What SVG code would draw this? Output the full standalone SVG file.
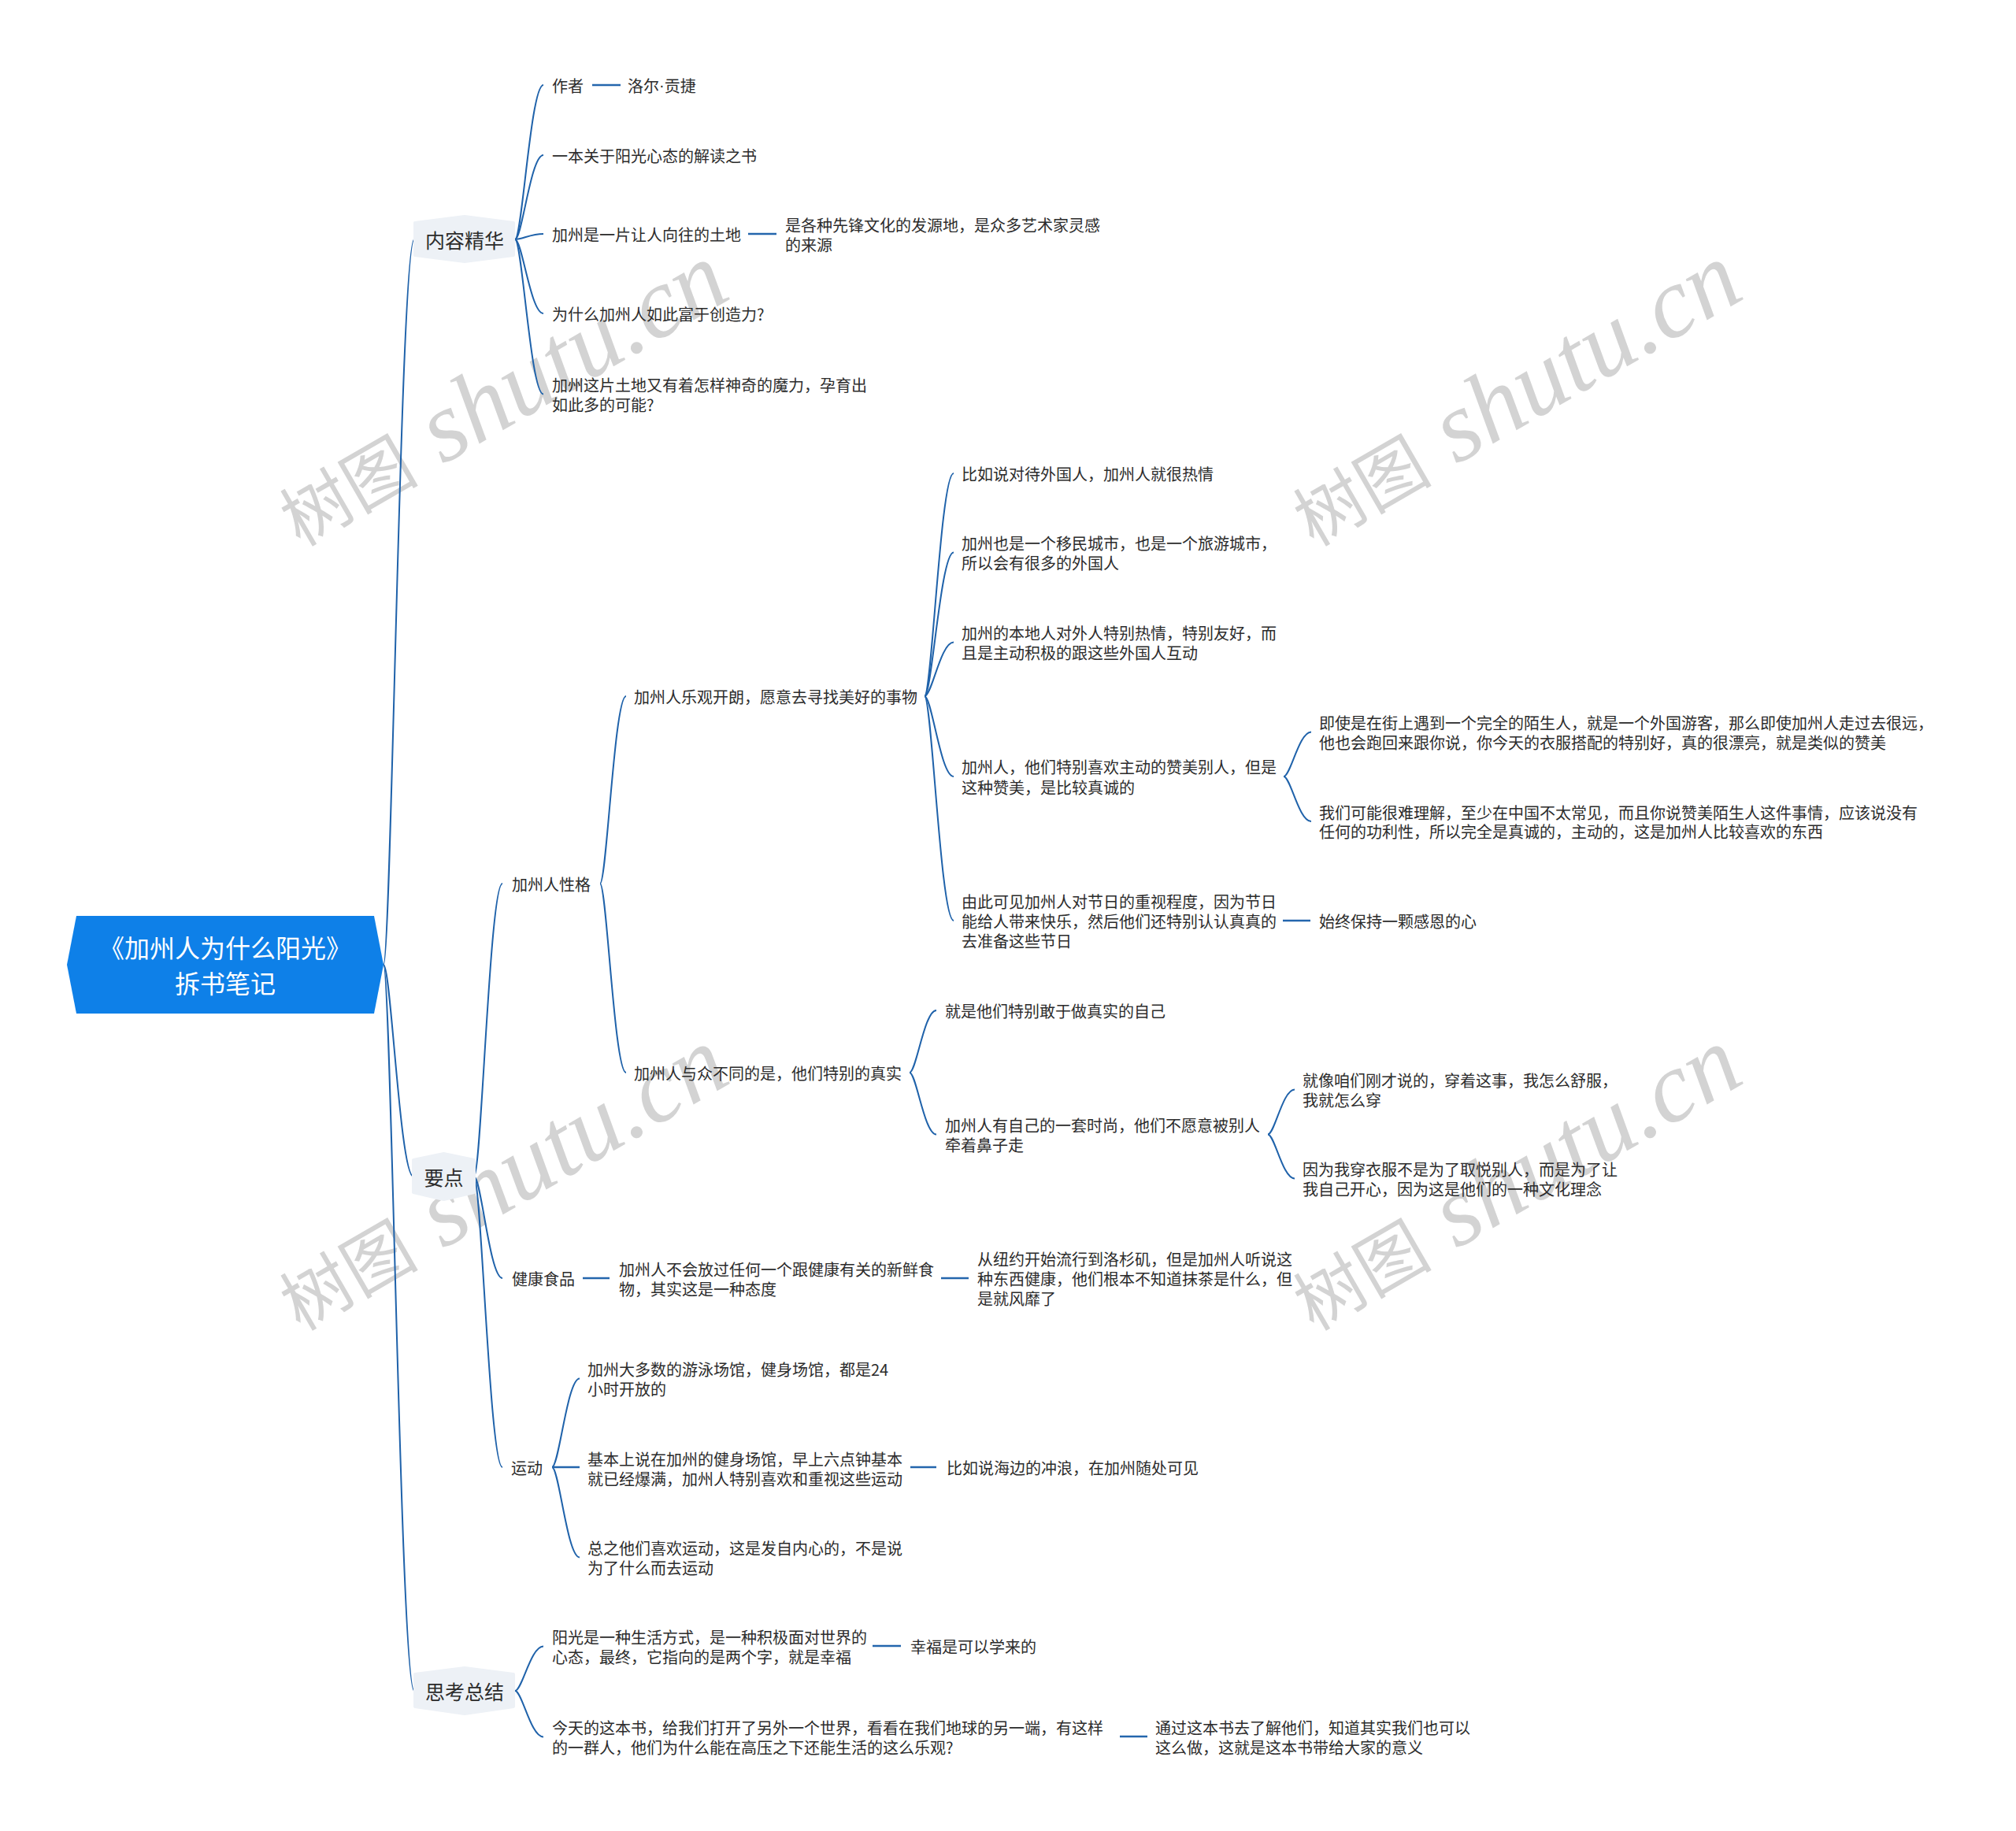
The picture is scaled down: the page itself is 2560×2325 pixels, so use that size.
<svg xmlns="http://www.w3.org/2000/svg" width="2560" height="2325" viewBox="0 0 2560 2325">
<style>
.t{font-family:"Noto Sans CJK SC","Liberation Sans",sans-serif;font-size:20px;fill:#2c2c2c;dominant-baseline:central}
.m{font-size:25px;text-anchor:middle}
.r{font-size:32px;fill:#ffffff;text-anchor:middle}
.c{fill:none;stroke:#1f62aa;stroke-width:2}
.s{fill:none;stroke:#2466ad;stroke-width:2.6}
.hx{fill:#edf1f6;stroke:#edf1f6;stroke-width:4;stroke-linejoin:round}
.wm{fill:#d3d3d3}
.wc{font-family:"Noto Sans CJK SC",sans-serif;font-size:88px}
.wl{font-family:"Liberation Serif",serif;font-style:italic;font-size:127px}
.dot{font-family:"Liberation Sans",sans-serif}
</style>
<rect width="2560" height="2325" fill="#ffffff"/>
<g id="watermarks">
<text class="wm" transform="translate(381,695) rotate(-30)"><tspan class="wc" x="0" y="0">树图</tspan><tspan class="wl" x="209" y="0">shutu.cn</tspan></text>
<text class="wm" transform="translate(1668,695) rotate(-30)"><tspan class="wc" x="0" y="0">树图</tspan><tspan class="wl" x="209" y="0">shutu.cn</tspan></text>
<text class="wm" transform="translate(381,1691) rotate(-30)"><tspan class="wc" x="0" y="0">树图</tspan><tspan class="wl" x="209" y="0">shutu.cn</tspan></text>
<text class="wm" transform="translate(1668,1691) rotate(-30)"><tspan class="wc" x="0" y="0">树图</tspan><tspan class="wl" x="209" y="0">shutu.cn</tspan></text>
</g>
<g id="connectors">
<path class="c" d="M487 1225 C496.8 1225 508.5 304 526 304"/>
<path class="c" d="M487 1225 C496.5 1225 507.9 1494 525 1494"/>
<path class="c" d="M487 1225 C496.8 1225 508.5 2147 526 2147"/>
<path class="c" d="M654 304 C663 304 673.8 108 690 108"/>
<path class="c" d="M654 304 C663 304 673.8 197 690 197"/>
<path class="c" d="M654 304 C663 304 673.8 297 690 297"/>
<path class="c" d="M654 304 C663 304 673.8 398 690 398"/>
<path class="c" d="M654 304 C663 304 673.8 500.5 690 500.5"/>
<path class="s" d="M752 108 H788"/>
<path class="s" d="M950 297 H986"/>
<path class="c" d="M602 1494 C611 1494 621.8 1122 638 1122"/>
<path class="c" d="M602 1494 C611 1494 621.8 1623 638 1623"/>
<path class="c" d="M602 1494 C611 1494 621.8 1863 638 1863"/>
<path class="c" d="M762 1122 C770.3 1122 780.2 884 795 884"/>
<path class="c" d="M762 1122 C770.3 1122 780.2 1362 795 1362"/>
<path class="c" d="M1174 884 C1183.3 884 1194.4 601 1211 601"/>
<path class="c" d="M1174 884 C1183.3 884 1194.4 701.5 1211 701.5"/>
<path class="c" d="M1174 884 C1183.3 884 1194.4 815.5 1211 815.5"/>
<path class="c" d="M1174 884 C1183.3 884 1194.4 986 1211 986"/>
<path class="c" d="M1174 884 C1183.3 884 1194.4 1169 1211 1169"/>
<path class="c" d="M1630 986 C1638.8 986 1649.3 929.5 1665 929.5"/>
<path class="c" d="M1630 986 C1638.8 986 1649.3 1043 1665 1043"/>
<path class="s" d="M1629 1169 H1664"/>
<path class="c" d="M1155 1362 C1163.5 1362 1173.7 1283 1189 1283"/>
<path class="c" d="M1155 1362 C1163.5 1362 1173.7 1440.5 1189 1440.5"/>
<path class="c" d="M1610 1440.5 C1618.5 1440.5 1628.7 1383.5 1644 1383.5"/>
<path class="c" d="M1610 1440.5 C1618.5 1440.5 1628.7 1496.5 1644 1496.5"/>
<path class="s" d="M740 1623 H774"/>
<path class="s" d="M1195 1623 H1230"/>
<path class="c" d="M701 1863 C709.8 1863 720.3 1750.5 736 1750.5"/>
<path class="s" d="M701 1863 H736"/>
<path class="c" d="M701 1863 C709.8 1863 720.3 1977.5 736 1977.5"/>
<path class="s" d="M1156 1863 H1189"/>
<path class="c" d="M654 2147 C663 2147 673.8 2090.5 690 2090.5"/>
<path class="c" d="M654 2147 C663 2147 673.8 2205.5 690 2205.5"/>
<path class="s" d="M1108 2090 H1144"/>
<path class="s" d="M1422 2205 H1457"/>
</g>
<g id="root">
<polygon points="97,1163 475,1163 487,1225 475,1287 97,1287 85,1225" fill="#0e80e8"/>
<text class="t r"><tspan x="286" y="1202">《加州人为什么阳光》</tspan><tspan x="286" y="1247">拆书笔记</tspan></text>
</g>
<g id="n-neirong">
<polygon class="hx" points="527,283 590,275 652,283 652,324 590,332 527,324"/>
<text class="t m" x="590" y="304">内容精华</text>
</g>
<g id="n-zuozhe"><text class="t" x="701" y="108">作者</text></g>
<g id="n-luoer"><text class="t" x="797" y="108">洛尔<tspan class="dot">·</tspan>贡捷</text></g>
<g id="n-yiben"><text class="t" x="701" y="197">一本关于阳光心态的解读之书</text></g>
<g id="n-jiazhoushi"><text class="t" x="701" y="297">加州是一片让人向往的土地</text></g>
<g id="n-xianfeng"><text class="t"><tspan x="997" y="285">是各种先锋文化的发源地，是众多艺术家灵感</tspan><tspan x="997" y="310">的来源</tspan></text></g>
<g id="n-weishenme"><text class="t" x="701" y="398">为什么加州人如此富于创造力?</text></g>
<g id="n-zhepian"><text class="t"><tspan x="701" y="488">加州这片土地又有着怎样神奇的魔力，孕育出</tspan><tspan x="701" y="513">如此多的可能?</tspan></text></g>
<g id="n-yaodian">
<polygon class="hx" points="525,1473 563.5,1465 602,1473 602,1514 563.5,1523 525,1514"/>
<text class="t m" x="563.5" y="1494">要点</text>
</g>
<g id="n-xingge"><text class="t" x="650" y="1122">加州人性格</text></g>
<g id="n-leguan"><text class="t" x="805" y="884">加州人乐观开朗，愿意去寻找美好的事物</text></g>
<g id="n-biru"><text class="t" x="1221" y="601">比如说对待外国人，加州人就很热情</text></g>
<g id="n-yimin"><text class="t"><tspan x="1221" y="689">加州也是一个移民城市，也是一个旅游城市，</tspan><tspan x="1221" y="714">所以会有很多的外国人</tspan></text></g>
<g id="n-bendi"><text class="t"><tspan x="1221" y="803">加州的本地人对外人特别热情，特别友好，而</tspan><tspan x="1221" y="828">且是主动积极的跟这些外国人互动</tspan></text></g>
<g id="n-zanmei"><text class="t"><tspan x="1221" y="973">加州人，他们特别喜欢主动的赞美别人，但是</tspan><tspan x="1221" y="999">这种赞美，是比较真诚的</tspan></text></g>
<g id="n-jishi"><text class="t"><tspan x="1675" y="917">即使是在街上遇到一个完全的陌生人，就是一个外国游客，那么即使加州人走过去很远，</tspan><tspan x="1675" y="942">他也会跑回来跟你说，你今天的衣服搭配的特别好，真的很漂亮，就是类似的赞美</tspan></text></g>
<g id="n-women"><text class="t"><tspan x="1675" y="1031">我们可能很难理解，至少在中国不太常见，而且你说赞美陌生人这件事情，应该说没有</tspan><tspan x="1675" y="1055">任何的功利性，所以完全是真诚的，主动的，这是加州人比较喜欢的东西</tspan></text></g>
<g id="n-jieri"><text class="t"><tspan x="1221" y="1144">由此可见加州人对节日的重视程度，因为节日</tspan><tspan x="1221" y="1169">能给人带来快乐，然后他们还特别认认真真的</tspan><tspan x="1221" y="1194">去准备这些节日</tspan></text></g>
<g id="n-ganen"><text class="t" x="1675" y="1169">始终保持一颗感恩的心</text></g>
<g id="n-zhenshi"><text class="t" x="805" y="1362">加州人与众不同的是，他们特别的真实</text></g>
<g id="n-ziji"><text class="t" x="1200" y="1283">就是他们特别敢于做真实的自己</text></g>
<g id="n-shishang"><text class="t"><tspan x="1200" y="1428">加州人有自己的一套时尚，他们不愿意被别人</tspan><tspan x="1200" y="1453">牵着鼻子走</tspan></text></g>
<g id="n-shufu"><text class="t"><tspan x="1654" y="1371">就像咱们刚才说的，穿着这事，我怎么舒服，</tspan><tspan x="1654" y="1396">我就怎么穿</tspan></text></g>
<g id="n-quyue"><text class="t"><tspan x="1654" y="1484">因为我穿衣服不是为了取悦别人，而是为了让</tspan><tspan x="1654" y="1509">我自己开心，因为这是他们的一种文化理念</tspan></text></g>
<g id="n-jiankang"><text class="t" x="650" y="1623">健康食品</text></g>
<g id="n-xinxian"><text class="t"><tspan x="786" y="1611">加州人不会放过任何一个跟健康有关的新鲜食</tspan><tspan x="786" y="1636">物，其实这是一种态度</tspan></text></g>
<g id="n-mocha"><text class="t"><tspan x="1241" y="1598">从纽约开始流行到洛杉矶，但是加州人听说这</tspan><tspan x="1241" y="1623">种东西健康，他们根本不知道抹茶是什么，但</tspan><tspan x="1241" y="1648">是就风靡了</tspan></text></g>
<g id="n-yundong"><text class="t" x="649" y="1863">运动</text></g>
<g id="n-youyong"><text class="t"><tspan x="746" y="1738">加州大多数的游泳场馆，健身场馆，都是24</tspan><tspan x="746" y="1763">小时开放的</tspan></text></g>
<g id="n-baoman"><text class="t"><tspan x="746" y="1852">基本上说在加州的健身场馆，早上六点钟基本</tspan><tspan x="746" y="1877">就已经爆满，加州人特别喜欢和重视这些运动</tspan></text></g>
<g id="n-chonglang"><text class="t" x="1202" y="1863">比如说海边的冲浪，在加州随处可见</text></g>
<g id="n-neixin"><text class="t"><tspan x="746" y="1965">总之他们喜欢运动，这是发自内心的，不是说</tspan><tspan x="746" y="1990">为了什么而去运动</tspan></text></g>
<g id="n-sikao">
<polygon class="hx" points="527,2126 590,2118 652,2126 652,2167 590,2176 527,2167"/>
<text class="t m" x="590" y="2147">思考总结</text>
</g>
<g id="n-yangguang"><text class="t"><tspan x="701" y="2078">阳光是一种生活方式，是一种积极面对世界的</tspan><tspan x="701" y="2103">心态，最终，它指向的是两个字，就是幸福</tspan></text></g>
<g id="n-xingfu"><text class="t" x="1156" y="2090">幸福是可以学来的</text></g>
<g id="n-jintian"><text class="t"><tspan x="701" y="2193">今天的这本书，给我们打开了另外一个世界，看看在我们地球的另一端，有这样</tspan><tspan x="701" y="2218">的一群人，他们为什么能在高压之下还能生活的这么乐观?</tspan></text></g>
<g id="n-yiyi"><text class="t"><tspan x="1467" y="2193">通过这本书去了解他们，知道其实我们也可以</tspan><tspan x="1467" y="2218">这么做，这就是这本书带给大家的意义</tspan></text></g>
</svg>
